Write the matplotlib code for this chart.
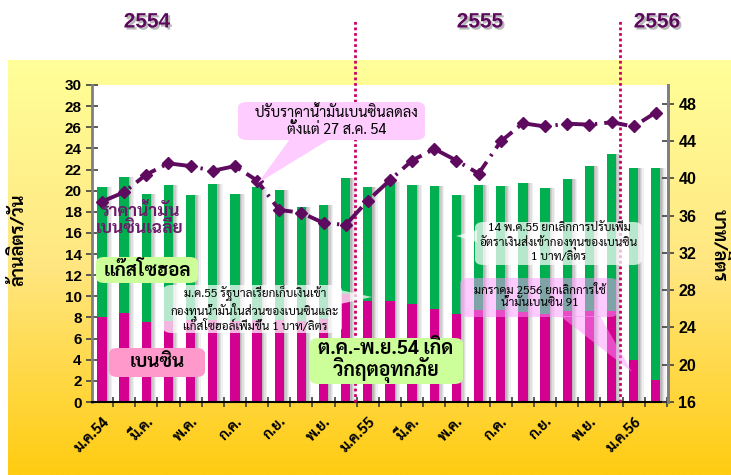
import numpy as np
import matplotlib
matplotlib.use("Agg")
import matplotlib.pyplot as plt
import matplotlib.patheffects as pe
from matplotlib.patches import FancyBboxPatch, Polygon

THAI = ['Sarabun', 'Noto Sans Thai Looped', 'Bai Jamjuree', 'Noto Sans Thai', 'Liberation Sans']
NUM = ['Liberation Sans', 'DejaVu Sans']

# --- data: Jan 2554 .. Feb 2556 ---
months = ['ม.ค.54', 'ก.พ.', 'มี.ค.', 'เม.ย.', 'พ.ค.', 'มิ.ย.', 'ก.ค.', 'ส.ค.', 'ก.ย.', 'ต.ค.', 'พ.ย.', 'ธ.ค.',
          'ม.ค.55', 'ก.พ.', 'มี.ค.', 'เม.ย.', 'พ.ค.', 'มิ.ย.', 'ก.ค.', 'ส.ค.', 'ก.ย.', 'ต.ค.', 'พ.ย.', 'ธ.ค.',
          'ม.ค.56', 'ก.พ.']
benzine = [8.0, 8.45, 7.6, 7.7, 7.8, 7.8, 7.7, 7.8, 7.8, 7.7, 7.9, 10.2,
           9.55, 9.55, 9.3, 8.8, 8.3, 8.7, 8.7, 8.5, 8.3, 8.6, 8.6, 8.6,
           4.0, 2.1]
gasohol = [12.3, 12.8, 12.1, 12.8, 11.8, 12.8, 12.0, 12.5, 12.25, 10.8, 10.7, 11.0,
           10.75, 11.25, 11.2, 11.6, 11.3, 11.8, 11.7, 12.25, 11.95, 12.5, 13.7, 14.9,
           18.1, 20.0]
price = [37.5, 38.5, 40.4, 41.6, 41.3, 40.8, 41.3, 39.75, 36.6, 36.3, 35.2, 35.0,
         37.6, 39.8, 41.9, 43.15, 41.9, 40.5, 43.95, 45.9, 45.55, 45.85, 45.75, 46.0,
         45.55, 47.05]
label_idx = list(range(0, 26, 2))
years = ['2554', '2555', '2556']

W, H = 731, 475
fig = plt.figure(figsize=(W / 100, H / 100), dpi=100)


def px(x, y):
    return x / W, 1 - y / H


# yellow gradient background
bg = fig.add_axes([8 / W, 0, 1 - 8 / W, (H - 60) / H], zorder=-10)
grad = np.linspace(0, 1, 256)[:, None]
cmap = matplotlib.colors.LinearSegmentedColormap.from_list('y', ['#FFFF99', '#FFE680', '#FFCC11'])
bg.imshow(grad, aspect='auto', cmap=cmap, extent=[0, 1, 0, 1], origin='upper')
bg.axis('off')

x0, y0 = px(92, 402)
x1, y1 = px(668, 85)
ax = fig.add_axes([x0, y0, x1 - x0, y1 - y0])
ax.set_facecolor('white')
x = np.arange(len(months))
bw = 0.42

# bar shadows
for k, a in enumerate([0.28, 0.2, 0.12, 0.06]):
    ax.bar(x + bw / 2 + 0.06 * k + 0.03, np.add(benzine, gasohol), width=0.06, bottom=0,
           color='black', alpha=a, linewidth=0, zorder=1)
ax.bar(x, benzine, width=bw, color='#D4008F', linewidth=0, zorder=2)
ax.bar(x, gasohol, width=bw, bottom=benzine, color='#00B050', linewidth=0, zorder=2)

ax.set_xlim(-0.45, 25.55)
ax.set_ylim(0, 30)
ax.set_yticks(range(0, 31, 2))
ax.set_xticks(x[label_idx])
ax.set_xticklabels([months[i] for i in label_idx], rotation=45, ha='right', va='top',
                   rotation_mode='anchor', fontsize=10.5, fontweight='bold', family=THAI)
ax.tick_params(axis='x', length=0, pad=9)
ax.set_xticks(np.arange(-0.5, 26, 1)[1:], minor=True)
ax.tick_params(axis='x', which='minor', direction='inout', length=7, width=1.2, color='#404040')
ax.tick_params(axis='y', direction='inout', length=8, width=1.2, color='#404040', labelsize=11)
for t in ax.get_yticklabels():
    t.set_fontweight('bold')
    t.set_family(NUM)
ax.spines['top'].set_visible(False)
ax.spines['left'].set_color('#808080')
ax.spines['left'].set_linewidth(2)
ax.spines['right'].set_color('#808080')
ax.spines['right'].set_linewidth(2)
ax.spines['bottom'].set_linewidth(1.5)

ax2 = ax.twinx()
ax2.set_ylim(16, 50)
ax2.set_yticks(range(16, 49, 4))
ax2.plot(x, price, color='#5E0A5E', linewidth=2.8, linestyle=(0, (6, 1.8, 0.6, 1.8)),
         marker='D', markersize=6, zorder=5)
ax2.tick_params(axis='y', direction='inout', length=8, width=1.2, color='#404040', labelsize=11.5)
for t in ax2.get_yticklabels():
    t.set_fontweight('bold')
    t.set_family(NUM)
for s in ['top', 'left', 'bottom']:
    ax2.spines[s].set_visible(False)
ax2.spines['right'].set_color('#808080')
ax2.spines['right'].set_linewidth(2)

# year separators
for xv in [11.4, 23.4]:
    ax.axvline(xv, ymin=0, ymax=(402 - 20) / (402 - 85), color='#CC0066', linestyle=(0, (1, 1)),
               linewidth=2, clip_on=False, zorder=8)

shadow = [pe.withSimplePatchShadow(offset=(1.5, -1.5), shadow_rgbFace='#888888', alpha=0.6)]
for (xp, yp), yr in zip([(147, 22), (480, 22), (657, 22)], years):
    fig.text(*px(xp, yp), yr, ha='center', va='center', fontsize=15, fontweight='bold',
             color='#5C0A5C', family=NUM, path_effects=shadow)

fig.text(*px(18, 240), 'ล้านลิตร/วัน', rotation=90, ha='center', va='center',
         fontsize=13, fontweight='bold', family=THAI)
fig.text(*px(718, 245), 'บาท/ลิตร', rotation=270, ha='center', va='center',
         fontsize=13, fontweight='bold', family=THAI)


def box(l, t, r, b, fc, alpha=1.0, tail=None, z=10):
    (fx0, fy1), (fx1, fy0) = px(l, t), px(r, b)
    p = FancyBboxPatch((fx0, fy0), fx1 - fx0, fy1 - fy0, boxstyle='round,pad=0,rounding_size=0.012',
                       transform=fig.transFigure, fc=fc, ec='none', alpha=alpha, zorder=z)
    fig.add_artist(p)
    if tail is not None:
        fig.add_artist(Polygon([px(*q) for q in tail], closed=True, transform=fig.transFigure,
                               fc=fc, ec='none', alpha=alpha, zorder=z))


box(238, 102, 425, 140, '#FFCCFF', tail=[(290, 139), (330, 139), (258, 183)])
fig.text(*px(337, 121), 'ปรับราคาน้ำมันเบนซินลดลง\nตั้งแต่ 27 ส.ค. 54', ha='center', va='center',
         fontsize=10.5, family=THAI, linespacing=1.2, zorder=11)

fig.text(*px(140, 220), 'ราคาน้ำมัน\nเบนซินเฉลี่ย', ha='center', va='center', fontsize=12.5,
         fontweight='bold', color='#6A1B6A', family=THAI, linespacing=0.95, zorder=11)

box(96, 257, 198, 283, '#CCFF99', z=10)
fig.text(*px(147, 270), 'แก๊สโซฮอล', ha='center', va='center', fontsize=13.5,
         fontweight='bold', family=THAI, zorder=11)

box(109, 348, 205, 377, '#FF99CC', z=10)
fig.text(*px(157, 362), 'เบนซิน', ha='center', va='center', fontsize=13.5,
         fontweight='bold', family=THAI, zorder=11)

box(163, 285, 342, 333, 'white', alpha=0.72, tail=[(340, 290), (340, 304), (372, 297)])
fig.text(*px(255, 309), 'ม.ค.55 รัฐบาลเรียกเก็บเงินเข้า\nกองทุนน้ำมันในส่วนของเบนซินและ\nแก๊สโซฮอล์เพิ่มขึ้น 1 บาท/ลิตร',
         ha='center', va='center', fontsize=8.5, family=THAI, linespacing=1.1, zorder=11)

box(310, 338, 463, 384, '#CCFF99', z=10)
fig.text(*px(386, 361), 'ต.ค.-พ.ย.54 เกิด\nวิกฤตอุทกภัย', ha='center', va='center', fontsize=14,
         fontweight='bold', family=THAI, linespacing=0.95, zorder=11)

box(475, 222, 642, 265, 'white', alpha=0.72, tail=[(477, 230), (477, 242), (456, 236)])
fig.text(*px(559, 243), '14 พ.ค.55 ยกเลิกการปรับเพิ่ม\nอัตราเงินส่งเข้ากองทุนของเบนซิน\n1 บาท/ลิตร',
         ha='center', va='center', fontsize=8.5, family=THAI, linespacing=1.1, zorder=11)

box(460, 278, 618, 317, '#FF99FF', alpha=0.5, tail=[(560, 316), (600, 316), (632, 372)])
fig.text(*px(540, 297), 'มกราคม 2556 ยกเลิกการใช้\nน้ำมันเบนซิน 91', ha='center', va='center',
         fontsize=8.5, family=THAI, linespacing=1.1, zorder=11)

fig.savefig('out.png', dpi=100)
